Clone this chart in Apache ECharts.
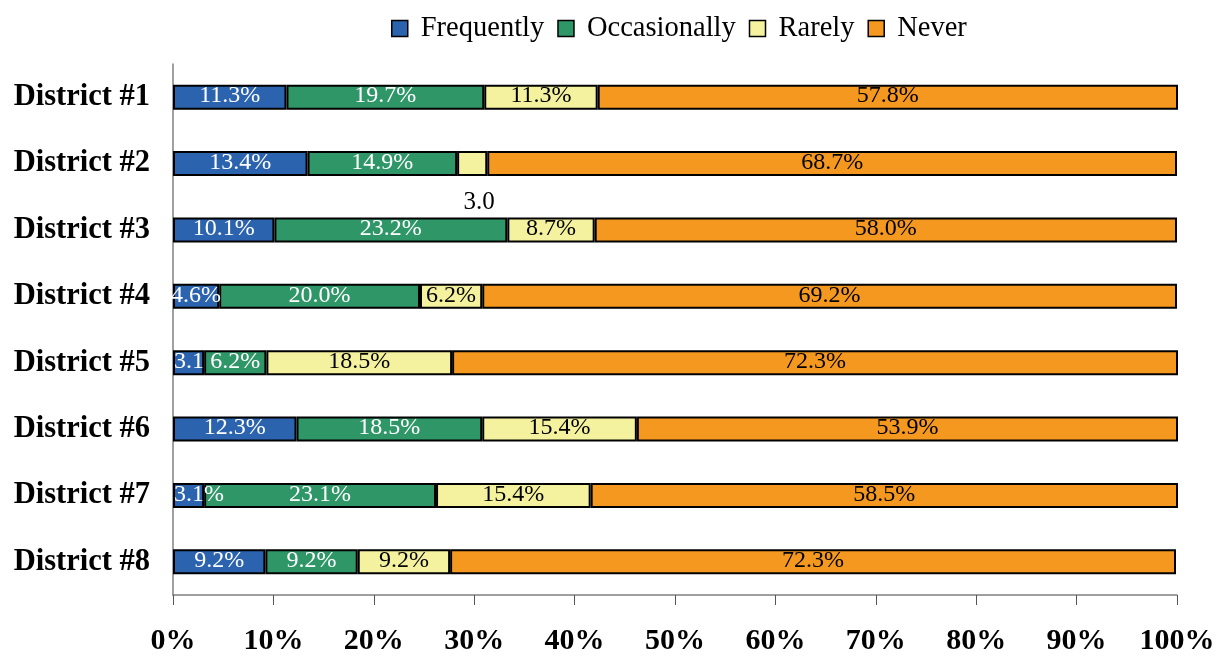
<!DOCTYPE html>
<html>
<head>
<meta charset="utf-8">
<script src="https://cdn.jsdelivr.net/npm/echarts@6/dist/echarts.min.js"></script>
<style>
html,body{margin:0;padding:0;background:#fff;}
#chart{width:1228px;height:656px;}
</style>
</head>
<body>
<div id="chart"></div>
<script>
const categories = ['District #1','District #2','District #3','District #4','District #5','District #6','District #7','District #8'];
const seriesNames = ['Frequently','Occasionally','Rarely','Never'];
const frequently   = [11.3, 13.4, 10.1, 4.6, 3.1, 12.3, 3.1, 9.2];
const occasionally = [19.7, 14.9, 23.2, 20.0, 6.2, 18.5, 23.1, 9.2];
const rarely       = [11.3, 3.0, 8.7, 6.2, 18.5, 15.4, 15.4, 9.2];
const never        = [57.8, 68.7, 58.0, 69.2, 72.3, 53.9, 58.5, 72.3];
const xTickLabels  = ['0%','10%','20%','30%','40%','50%','60%','70%','80%','90%','100%'];

const colors = ['#2b63ae','#2f9668','#f4f29f','#f49820'];
const labelColors = ['#ffffff','#ffffff','#000000','#000000'];
const SERIF = '"Liberation Serif","Times New Roman",serif';

const pct = v => v.toFixed(1) + '%';

// special label handling for narrow segments
function buildData(values, si) {
  return values.map((v, i) => {
    const item = { value: v };
    if (si === 0 && (i === 4 || i === 6)) {
      item.label = { position: 'insideLeft', distance: 1, formatter: i === 4 ? v.toFixed(1) : pct(v) };
    }
    if (si === 2 && i === 1) {
      item.label = { position: 'bottom', distance: 14, offset: [7, 0], color: '#000', fontSize: 25, formatter: v.toFixed(1) };
    }
    return item;
  });
}

const allValues = [frequently, occasionally, rarely, never];
const series = allValues.map((vals, si) => ({
  name: seriesNames[si],
  type: 'bar',
  stack: 'total',
  barWidth: 25,
  clip: false,
  itemStyle: { color: colors[si], borderColor: '#000', borderWidth: 2 },
  label: {
    show: true,
    position: 'inside',
    color: labelColors[si],
    fontFamily: SERIF,
    fontSize: 24,
    offset: [0, -1],
    formatter: p => pct(p.value)
  },
  data: buildData(vals, si)
}));

const chart = echarts.init(document.getElementById('chart'), null, { renderer: 'canvas' });
chart.setOption({
  animation: false,
  backgroundColor: '#fff',
  legend: {
    data: seriesNames,
    left: 386,
    top: 9,
    itemWidth: 16,
    itemHeight: 16,
    itemGap: 13,
    icon: 'rect',
    itemStyle: { borderColor: '#000', borderWidth: 1.5 },
    textStyle: { fontFamily: SERIF, fontSize: 28.5, color: '#000', padding: [0, 0, 0, 8] }
  },
  grid: { left: 173, right: 51, top: 64, bottom: 61, containLabel: false },
  xAxis: {
    type: 'value',
    min: 0,
    max: 100,
    interval: 10,
    axisLine: { show: true, lineStyle: { color: '#808080', width: 1.5 } },
    axisTick: { show: true, length: 10, lineStyle: { color: '#555', width: 1 } },
    splitLine: { show: false },
    axisLabel: {
      margin: 31,
      fontFamily: SERIF,
      fontSize: 30,
      fontWeight: 'bold',
      color: '#000',
      formatter: (v) => xTickLabels[Math.round(v / 10)]
    }
  },
  yAxis: {
    type: 'category',
    data: categories,
    inverse: true,
    axisLine: { show: true, lineStyle: { color: '#808080', width: 1.5 } },
    axisTick: { show: false },
    axisLabel: {
      margin: 23,
      fontFamily: SERIF,
      fontSize: 30.5,
      fontWeight: 'bold',
      color: '#000'
    }
  },
  series: series
});
</script>
</body>
</html>
